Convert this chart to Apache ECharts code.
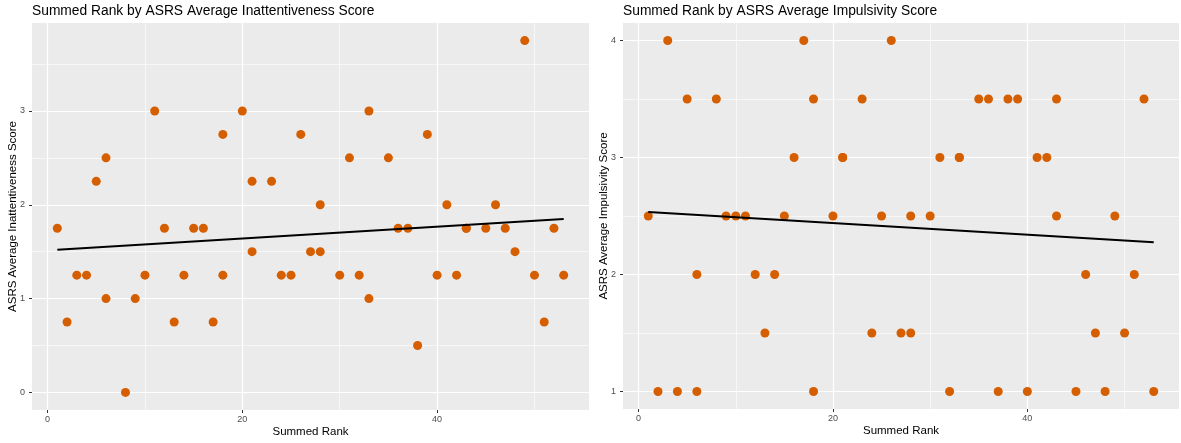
<!DOCTYPE html>
<html>
<head>
<meta charset="utf-8">
<script src="https://cdn.jsdelivr.net/npm/echarts@6/dist/echarts.min.js"></script>
<style>
  html, body { margin: 0; padding: 0; background: #ffffff; }
  #chart { width: 1181px; height: 443px; }
</style>
</head>
<body>
<div id="chart"></div>
<script>
// Summed rank of each participant (ties share the lower rank)
const summedRank = [1, 2, 3, 4, 5, 6, 6, 8, 9, 10, 11, 12, 13, 14, 15, 16, 17, 18, 18, 20,
  21, 21, 23, 24, 25, 26, 27, 28, 28, 30, 31, 32, 33, 33, 35, 36, 37, 38, 39, 40,
  41, 42, 43, 43, 45, 46, 47, 48, 49, 50, 51, 52, 53];

// ASRS average inattentiveness score per participant
const inattentiveness = [1.75, 0.75, 1.25, 1.25, 2.25, 1.0, 2.5, 0, 1, 1.25, 3, 1.75, 0.75, 1.25, 1.75, 1.75, 0.75, 1.25, 2.75, 3,
  1.5, 2.25, 2.25, 1.25, 1.25, 2.75, 1.5, 1.5, 2, 1.25, 2.5, 1.25, 1, 3, 2.5, 1.75, 1.75, 0.5, 2.75, 1.25,
  2, 1.25, 1.75, 1.75, 1.75, 2, 1.75, 1.5, 3.75, 1.25, 0.75, 1.75, 1.25];

// ASRS average impulsivity score per participant
const impulsivity = [2.5, 1, 4, 1, 3.5, 2, 1, 3.5, 2.5, 2.5, 2.5, 2, 1.5, 2, 2.5, 3, 4, 3.5, 1, 2.5,
  3, 3, 3.5, 1.5, 2.5, 4, 1.5, 2.5, 1.5, 2.5, 3, 1, 3, 3, 3.5, 3.5, 1, 3.5, 3.5, 1,
  3, 3, 3.5, 2.5, 1, 2, 1.5, 1, 2.5, 1.5, 2, 3.5, 1];

// Tick labels
const xTicks = [0, 20, 40];
const xMinorTicks = [10, 30, 50];
const yTicksInatt = [0, 1, 2, 3];
const yMinorInatt = [0.5, 1.5, 2.5, 3.5];
const yTicksImpul = [1, 2, 3, 4];
const yMinorImpul = [1.5, 2.5, 3.5];

const FONT = '"Liberation Sans", Arial, sans-serif';
const POINT = '#D55E00';

// Ordinary least squares fit, evaluated at the smallest and largest rank
function fitLine(xs, ys) {
  const n = xs.length;
  const mx = xs.reduce((a, b) => a + b, 0) / n;
  const my = ys.reduce((a, b) => a + b, 0) / n;
  let sxy = 0, sxx = 0;
  for (let i = 0; i < n; i++) { sxy += (xs[i] - mx) * (ys[i] - my); sxx += (xs[i] - mx) ** 2; }
  const b = sxy / sxx, a = my - b * mx;
  const x0 = Math.min(...xs), x1 = Math.max(...xs);
  return [[x0, a + b * x0], [x1, a + b * x1]];
}

// Data range padded by 5% on each side
function padded(vals) {
  const lo = Math.min(...vals), hi = Math.max(...vals), d = (hi - lo) * 0.05;
  return [lo - d, hi + d];
}

const [xMin, xMax] = padded(summedRank);
const [yMinA, yMaxA] = padded(inattentiveness);
const [yMinB, yMaxB] = padded(impulsivity);

function majorAxis(gridIndex, min, max, ticks, name, isY) {
  return {
    type: 'value', gridIndex, min, max,
    name, nameLocation: 'middle', nameGap: isY ? 13 : 16, nameMoveOverlap: false,
    nameTextStyle: { color: '#000', fontSize: 11.5, fontFamily: FONT },
    axisLine: { show: false, onZero: false },
    axisTick: { show: true, length: 3, customValues: ticks, lineStyle: { color: '#333333', width: 1 } },
    axisLabel: { customValues: ticks, color: '#4D4D4D', fontSize: 9, fontFamily: FONT, margin: isY ? 7 : 5 },
    splitLine: { show: true, lineStyle: { color: '#ffffff', width: 1.2 } },
    z: 1
  };
}

function minorAxis(gridIndex, min, max, ticks) {
  return {
    type: 'value', gridIndex, min, max,
    axisLine: { show: false, onZero: false },
    axisTick: { show: false, customValues: ticks },
    axisLabel: { show: false, customValues: ticks },
    splitLine: { show: true, lineStyle: { color: '#ffffff', width: 0.6 } },
    z: 0
  };
}

const pairsA = summedRank.map((r, i) => [r, inattentiveness[i]]);
const pairsB = summedRank.map((r, i) => [r, impulsivity[i]]);

const titleStyle = { color: '#000', fontSize: 13.8, fontWeight: 'normal', fontFamily: FONT };

const option = {
  backgroundColor: '#ffffff',
  animation: false,
  title: [
    { text: 'Summed Rank by ASRS Average Inattentiveness Score', left: 32, top: 4, padding: 0, textStyle: titleStyle },
    { text: 'Summed Rank by ASRS Average Impulsivity Score', left: 623, top: 4, padding: 0, textStyle: titleStyle }
  ],
  grid: [
    { left: 32, top: 23, width: 557, height: 387, backgroundColor: '#EBEBEB', show: true, borderWidth: 0 },
    { left: 623, top: 23, width: 556, height: 386, backgroundColor: '#EBEBEB', show: true, borderWidth: 0 }
  ],
  xAxis: [
    majorAxis(0, xMin, xMax, xTicks, 'Summed Rank', false),
    minorAxis(0, xMin, xMax, xMinorTicks),
    majorAxis(1, xMin, xMax, xTicks, 'Summed Rank', false),
    minorAxis(1, xMin, xMax, xMinorTicks)
  ],
  yAxis: [
    majorAxis(0, yMinA, yMaxA, yTicksInatt, 'ASRS Average Inattentiveness Score', true),
    minorAxis(0, yMinA, yMaxA, yMinorInatt),
    majorAxis(1, yMinB, yMaxB, yTicksImpul, 'ASRS Average Impulsivity Score', true),
    minorAxis(1, yMinB, yMaxB, yMinorImpul)
  ],
  series: [
    { type: 'scatter', xAxisIndex: 0, yAxisIndex: 0, data: pairsA, symbolSize: 9,
      itemStyle: { color: POINT, opacity: 1 }, z: 3 },
    { type: 'line', xAxisIndex: 0, yAxisIndex: 0, data: fitLine(summedRank, inattentiveness),
      symbol: 'none', lineStyle: { color: '#000', width: 2 }, z: 4 },
    { type: 'scatter', xAxisIndex: 2, yAxisIndex: 2, data: pairsB, symbolSize: 9,
      itemStyle: { color: POINT, opacity: 1 }, z: 3 },
    { type: 'line', xAxisIndex: 2, yAxisIndex: 2, data: fitLine(summedRank, impulsivity),
      symbol: 'none', lineStyle: { color: '#000', width: 2 }, z: 4 }
  ]
};

const chart = echarts.init(document.getElementById('chart'), null, { renderer: 'canvas' });
chart.setOption(option);
</script>
</body>
</html>
